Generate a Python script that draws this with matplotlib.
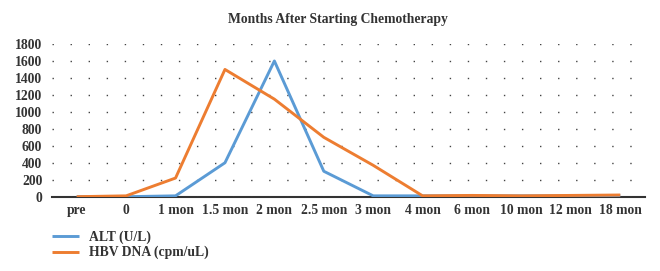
import matplotlib
matplotlib.use("Agg")
import matplotlib.pyplot as plt

categories = ["pre", "0", "1 mon", "1.5 mon", "2 mon", "2.5 mon", "3 mon",
              "4 mon", "6 mon", "10 mon", "12 mon", "18 mon"]
alt = [0, 0, 10, 400, 1600, 300, 10, 10, 10, 10, 10, 15]
hbv = [0, 10, 220, 1500, 1150, 700, 370, 10, 15, 10, 15, 20]
yticks = [0, 200, 400, 600, 800, 1000, 1200, 1400, 1600, 1800]

plt.rcParams['font.family'] = ['Liberation Serif', 'DejaVu Serif']
plt.rcParams['font.weight'] = 'bold'

fig = plt.figure(figsize=(6.6, 2.71), dpi=100)
ax = fig.add_axes([52/660, (271-196.7)/271, (645-52)/660, (196.7-44)/271])

x = list(range(len(categories)))
ax.plot(x, alt, color="#5B9BD5", lw=2.1, label="ALT (U/L)", solid_capstyle='butt')
ax.plot(x, hbv, color="#ED7D31", lw=2.1, label="HBV DNA (cpm/uL)", solid_capstyle='butt')

ax.set_xlim(-0.5, len(categories) - 0.5)
ax.set_ylim(0, 1800)
ax.set_yticks(yticks)
ax.set_xticks(x)
ax.set_xticklabels(categories)
for t in ax.get_xticklabels() + ax.get_yticklabels():
    t.set_fontsize(9.8)
    t.set_fontweight('bold')
    t.set_color('#333333')
ax.tick_params(axis='both', length=0)
ax.tick_params(axis='y', pad=7)
ax.tick_params(axis='x', pad=5)

for s in ["top", "right", "left"]:
    ax.spines[s].set_visible(False)
ax.spines["bottom"].set_color("#333333")
ax.spines["bottom"].set_linewidth(1.5)
ax.spines["bottom"].set_zorder(0.5)

ax.yaxis.grid(True, linestyle=(0, (1, 12)), color="#444444", linewidth=1.0)
ax.set_axisbelow(True)

fig.text(338/660, 1 - 20/271, "Months After Starting Chemotherapy", ha="center", va="center",
         fontsize=9.8, fontweight="bold", color="#333333")

handles, labels = ax.get_legend_handles_labels()
fig.legend(handles, labels, loc="upper left", bbox_to_anchor=(47/660, 1 - 225/271),
           frameon=False, fontsize=9.8, handlelength=1.95, handletextpad=0.75,
           labelspacing=0.15, labelcolor="#333333", borderaxespad=0)

fig.savefig("out.png", dpi=100)
